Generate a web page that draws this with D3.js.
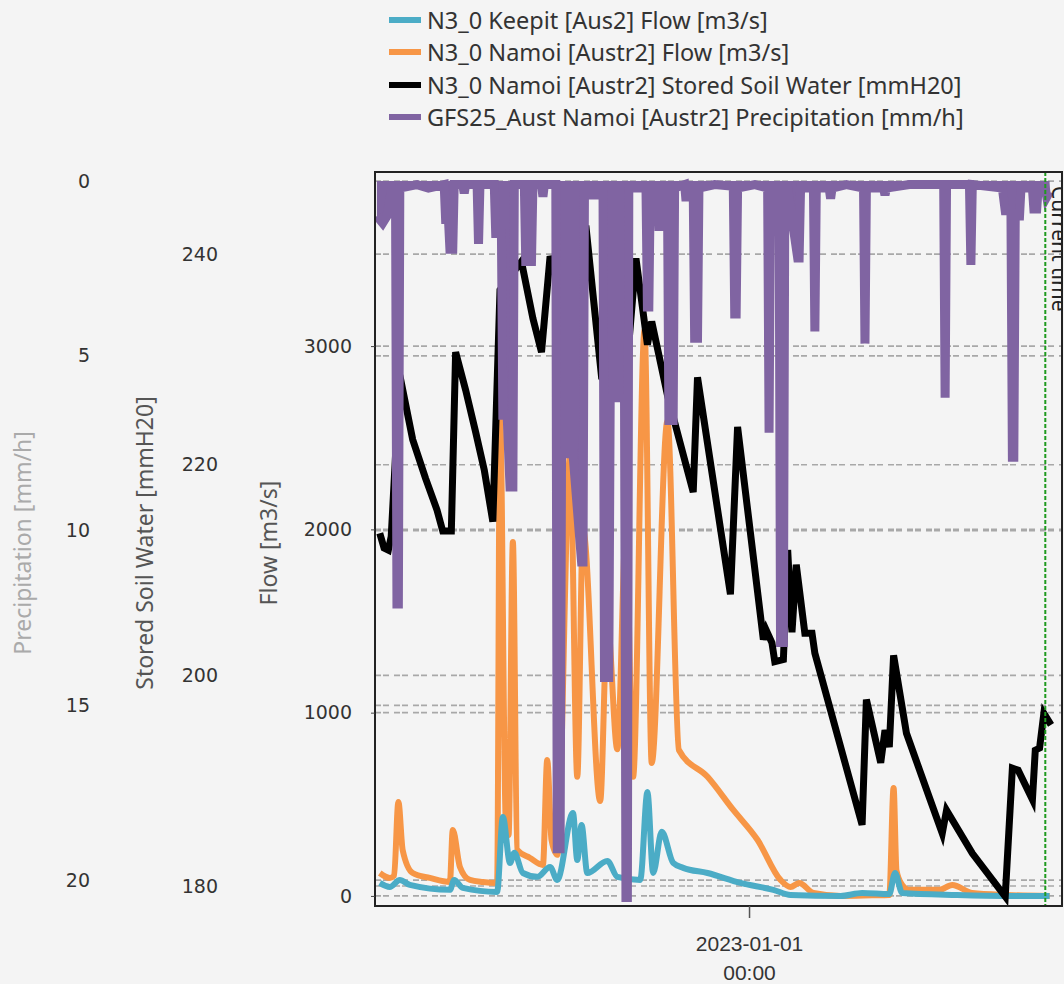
<!DOCTYPE html>
<html>
<head>
<meta charset="utf-8">
<script src="https://cdn.jsdelivr.net/npm/d3@7"></script>
<style>
  html, body { margin: 0; padding: 0; background: #f4f4f4; }
  svg { display: block; }
</style>
</head>
<body>
<div id="chart"></div>
<script>
// ---- data ----
const seriesNames = [
  "N3_0 Keepit [Aus2] Flow [m3/s]",
  "N3_0 Namoi [Austr2] Flow [m3/s]",
  "N3_0 Namoi [Austr2] Stored Soil Water [mmH20]",
  "GFS25_Aust Namoi [Austr2] Precipitation [mm/h]"
];
const seriesColors = ["#4bacc6", "#f79646", "#000000", "#8064a2"];

const timeDomain = ["2022-10-27T16", "2023-02-24T16"];
const timeTicks = ["2023-01-01T00"];
const currentTime = "2023-02-21T18";

const flowTicks = [0, 1000, 2000, 3000];
const soilTicks = [180, 200, 220, 240];
const precipTicks = [0, 5, 10, 15, 20];

// [time, m3/s]
const keepitFlow = [
  ["2022-10-28T12",71],["2022-10-30T06",49],["2022-11-01T00",87],["2022-11-02T18",60],
  ["2022-11-09T18",33],["2022-11-10T12",87],["2022-11-12T00",44],["2022-11-18T00",22],
  ["2022-11-19T00",431],["2022-11-20T06",180],["2022-11-21T00",235],["2022-11-22T12",125],
  ["2022-11-25T00",104],["2022-11-27T06",158],["2022-11-28T12",87],["2022-12-01T06",453],
  ["2022-12-02T00",196],["2022-12-02T18",387],["2022-12-03T18",125],["2022-12-07T06",191],
  ["2022-12-09T00",104],["2022-12-13T00",87],["2022-12-14T06",567],["2022-12-15T06",125],
  ["2022-12-16T18",350],["2022-12-18T18",180],["2022-12-20T12",153],["2022-12-24T18",125],
  ["2022-12-30T12",71],["2023-01-05T06",33],["2023-01-08T06",5],["2023-01-17T00",0],
  ["2023-01-20T18",16],["2023-01-25T12",10],["2023-01-26T12",125],["2023-01-27T18",16],
  ["2023-02-06T06",5],["2023-02-15T00",0],["2023-02-22T12",0]
];

// [time, m3/s]
const namoiFlow = [
  ["2022-10-28T12",125],["2022-10-30T06",98],["2022-10-31T00",110],["2022-10-31T18",513],
  ["2022-11-01T12",250],["2022-11-03T06",125],["2022-11-06T06",98],["2022-11-09T18",76],
  ["2022-11-10T06",360],["2022-11-11T12",158],["2022-11-13T06",87],["2022-11-15T12",76],
  ["2022-11-18T00",71],["2022-11-18T12",2650],["2022-11-19T12",415],["2022-11-20T00",333],
  ["2022-11-20T18",1931],["2022-11-21T12",251],["2022-11-23T18",207],["2022-11-26T00",169],
  ["2022-11-26T18",742],["2022-11-27T12",305],["2022-11-28T12",224],["2022-11-30T18",2405],
  ["2022-12-02T00",650],["2022-12-03T00",2000],["2022-12-06T00",518],["2022-12-07T06",1500],
  ["2022-12-09T00",800],["2022-12-10T12",2000],["2022-12-11T18",650],["2022-12-13T18",3087],
  ["2022-12-15T00",725],["2022-12-17T18",2591],["2022-12-19T18",796],["2022-12-24T18",650],
  ["2022-12-29T06",469],["2023-01-02T12",305],["2023-01-06T12",87],["2023-01-08T06",49],
  ["2023-01-09T18",71],["2023-01-12T06",16],["2023-01-17T00",0],["2023-01-22T12",3],
  ["2023-01-25T12",5],["2023-01-26T06",589],["2023-01-26T18",140],["2023-01-27T18",60],
  ["2023-01-29T00",33],["2023-02-03T06",33],["2023-02-05T12",60],["2023-02-09T00",16],
  ["2023-02-15T00",5],["2023-02-22T12",0]
];

// [time, mmH20]
const soilWater = [
  ["2022-10-28T12",213.5],["2022-10-29T06",212.1],["2022-10-30T00",211.9],["2022-10-30T12",213.2],
  ["2022-11-01T00",228.5],["2022-11-03T06",222.4],["2022-11-05T12",218.7],["2022-11-07T12",215.7],
  ["2022-11-08T12",213.7],["2022-11-10T00",213.7],["2022-11-10T18",230.7],["2022-11-12T12",227.1],
  ["2022-11-14T06",223.1],["2022-11-15T18",219.5],["2022-11-17T06",214.6],["2022-11-18T12",236.6],
  ["2022-11-22T06",239.3],["2022-11-24T06",233.9],["2022-11-25T18",230.7],["2022-11-27T06",239.8],
  ["2022-11-30T06",235.7],["2022-12-01T12",234.7],["2022-12-03T12",242.7],["2022-12-06T06",228.3],
  ["2022-12-10T06",226.6],["2022-12-12T06",239.6],["2022-12-14T06",231.4],["2022-12-15T00",233.6],
  ["2022-12-17T18",226.6],["2022-12-22T06",217.4],["2022-12-23T00",228.3],["2022-12-28T18",207.7],
  ["2022-12-30T00",223.6],["2023-01-03T12",203.4],["2023-01-04T00",204.3],["2023-01-05T00",203.1],
  ["2023-01-05T12",201.3],["2023-01-07T00",201.5],["2023-01-07T18",211.9],["2023-01-08T12",204.1],
  ["2023-01-09T06",210.5],["2023-01-10T18",204.0],["2023-01-12T00",204.0],["2023-01-12T12",202.1],
  ["2023-01-20T18",185.8],["2023-01-21T12",197.7],["2023-01-24T00",191.7],["2023-01-24T18",194.8],
  ["2023-01-25T12",193.2],["2023-01-26T06",201.9],["2023-01-28T12",194.5],["2023-02-01T12",188.4],
  ["2023-02-03T18",185.0],["2023-02-04T12",187.2],["2023-02-09T00",183.1],["2023-02-14T18",179.0],
  ["2023-02-16T00",191.2],["2023-02-17T00",191.0],["2023-02-19T12",188.2],["2023-02-20T00",192.9],
  ["2023-02-20T18",193.1],["2023-02-21T12",196.4],["2023-02-22T18",195.3]
];

// [time, mm/h]
const precipitation = [
  ["2022-10-28T00",1.0],["2022-10-29T00",1.2],["2022-10-29T18",1.0],["2022-10-30T12",0.3],
  ["2022-10-31T06",0.3],["2022-10-31T12",12.1],["2022-10-31T18",12.1],["2022-11-01T00",0.2],
  ["2022-11-04T00",0.1],["2022-11-06T00",0.2],["2022-11-08T18",0.1],["2022-11-09T00",1.1],
  ["2022-11-09T12",1.1],["2022-11-09T18",1.95],["2022-11-10T06",1.95],["2022-11-10T12",0.1],
  ["2022-11-12T00",0.1],["2022-11-12T06",0.35],["2022-11-12T12",0.1],["2022-11-14T12",0.1],
  ["2022-11-14T18",1.8],["2022-11-15T00",0.1],["2022-11-17T12",0.1],["2022-11-17T18",1.5],
  ["2022-11-18T18",1.5],["2022-11-19T00",6.7],["2022-11-19T18",6.7],["2022-11-20T06",8.75],
  ["2022-11-20T18",8.75],["2022-11-21T00",0.1],["2022-11-22T18",0.1],["2022-11-23T00",2.3],
  ["2022-11-24T00",2.3],["2022-11-24T06",0.1],["2022-11-25T18",0.1],["2022-11-26T00",0.45],
  ["2022-11-26T06",0.1],["2022-11-28T06",0.1],["2022-11-28T12",19.1],["2022-11-29T00",19.1],
  ["2022-11-29T06",7.8],["2022-12-01T06",7.8],["2022-12-02T18",10.9],["2022-12-03T00",10.9],
  ["2022-12-03T06",0.4],["2022-12-06T12",0.4],["2022-12-06T18",14.2],["2022-12-07T12",14.2],
  ["2022-12-07T18",6.2],["2022-12-10T06",6.2],["2022-12-10T12",20.5],["2022-12-10T18",20.5],
  ["2022-12-11T00",0.2],["2022-12-14T00",0.2],["2022-12-14T06",3.6],["2022-12-14T12",3.6],
  ["2022-12-14T18",0.2],["2022-12-16T00",0.2],["2022-12-16T06",1.3],["2022-12-16T12",1.3],
  ["2022-12-16T18",0.2],["2022-12-17T18",0.2],["2022-12-18T00",6.85],["2022-12-18T18",6.85],
  ["2022-12-19T00",0.2],["2022-12-20T18",0.1],["2022-12-21T00",0.57],["2022-12-21T06",0.2],
  ["2022-12-22T06",0.2],["2022-12-22T12",4.5],["2022-12-23T00",4.5],["2022-12-23T06",0.2],
  ["2022-12-26T00",0.1],["2022-12-29T06",0.15],["2022-12-29T12",3.8],["2022-12-29T18",3.8],
  ["2022-12-30T00",0.2],["2023-01-02T00",0.1],["2023-01-04T06",0.2],["2023-01-04T12",7.2],
  ["2023-01-04T18",0.2],["2023-01-06T06",0.2],["2023-01-06T12",13.2],["2023-01-07T00",13.2],
  ["2023-01-07T06",0.2],["2023-01-07T18",0.2],["2023-01-09T12",2.2],["2023-01-09T18",2.2],
  ["2023-01-10T00",0.2],["2023-01-12T06",0.2],["2023-01-12T12",4.3],["2023-01-12T18",0.2],
  ["2023-01-15T00",0.2],["2023-01-15T06",0.5],["2023-01-15T12",0.2],["2023-01-18T00",0.1],
  ["2023-01-21T00",0.2],["2023-01-21T06",4.65],["2023-01-21T12",0.2],["2023-01-24T12",0.2],
  ["2023-01-24T18",0.4],["2023-01-25T00",0.2],["2023-01-29T00",0.1],["2023-02-04T00",0.1],
  ["2023-02-04T06",6.2],["2023-02-04T12",0.1],["2023-02-08T12",0.1],["2023-02-08T18",2.4],
  ["2023-02-09T00",0.1],["2023-02-14T06",0.2],["2023-02-14T18",0.85],["2023-02-15T18",0.85],
  ["2023-02-16T00",7.9],["2023-02-16T06",7.9],["2023-02-16T12",1.0],["2023-02-17T06",1.0],
  ["2023-02-17T12",0.2],["2023-02-19T12",0.2],["2023-02-19T18",0.8],["2023-02-20T06",0.8],
  ["2023-02-20T12",0.2],["2023-02-21T18",0.2],["2023-02-22T00",0.45],["2023-02-22T12",0.3]
];

// ---- layout ----
const W = 1064, H = 984;
const plot = { left: 375, right: 1062, top: 172, bottom: 906 };
const parse = d3.timeParse("%Y-%m-%dT%H");
const toPts = arr => arr.map(([t, v]) => ({ t: parse(t), v }));

const svg = d3.select("#chart").append("svg")
  .attr("width", W).attr("height", H)
  .style("font-family", "'Noto Sans', 'Open Sans', sans-serif");

svg.append("rect").attr("width", W).attr("height", H).attr("fill", "#f4f4f4");

const x = d3.scaleTime()
  .domain(timeDomain.map(parse))
  .range([plot.left, plot.right]);
const yFlow = d3.scaleLinear().domain([-55, 3950]).range([plot.bottom, plot.top]);
const ySoil = d3.scaleLinear().domain([178.1, 247.8]).range([plot.bottom, plot.top]);
const yPrecip = d3.scaleLinear().domain([-0.26, 20.74]).range([plot.top, plot.bottom]);

// dashed gridlines for all three value axes
const grid = svg.append("g").attr("class", "grid");
[[yFlow, flowTicks], [ySoil, soilTicks], [yPrecip, precipTicks]].forEach(([s, ticks]) => {
  grid.append("g").selectAll("line").data(ticks).join("line")
    .attr("x1", plot.left).attr("x2", plot.right)
    .attr("y1", d => s(d)).attr("y2", d => s(d))
    .attr("stroke", "#a8a8a8").attr("stroke-width", 1.6)
    .attr("stroke-dasharray", "6,2,6,5");
});

// clip for the series
svg.append("defs").append("clipPath").attr("id", "clip")
  .append("rect")
  .attr("x", plot.left).attr("y", plot.top)
  .attr("width", plot.right - plot.left).attr("height", plot.bottom - plot.top);

const chart = svg.append("g").attr("clip-path", "url(#clip)");

const flowLine = d3.line().x(d => x(d.t)).y(d => yFlow(d.v)).curve(d3.curveMonotoneX);
const soilLine = d3.line().x(d => x(d.t)).y(d => ySoil(d.v));
const precipLine = d3.line().x(d => x(d.t)).y(d => yPrecip(d.v));
const precipArea = d3.area().x(d => x(d.t)).y0(yPrecip(0)).y1(d => yPrecip(d.v));

chart.append("path").datum(toPts(namoiFlow))
  .attr("d", flowLine).attr("fill", "none")
  .attr("stroke", seriesColors[1]).attr("stroke-width", 6);

chart.append("path").datum(toPts(keepitFlow))
  .attr("d", flowLine).attr("fill", "none")
  .attr("stroke", seriesColors[0]).attr("stroke-width", 6);

chart.append("path").datum(toPts(soilWater))
  .attr("d", soilLine).attr("fill", "none")
  .attr("stroke", seriesColors[2]).attr("stroke-width", 7);

const rain = toPts(precipitation);
chart.append("path").datum(rain)
  .attr("d", precipArea).attr("fill", seriesColors[3]);
chart.append("path").datum(rain)
  .attr("d", precipLine).attr("fill", "none")
  .attr("stroke", seriesColors[3]).attr("stroke-width", 9);

// current time marker
const xNow = x(parse(currentTime));
chart.append("line")
  .attr("x1", xNow).attr("x2", xNow)
  .attr("y1", plot.top).attr("y2", plot.bottom)
  .attr("stroke", "#1f9a1f").attr("stroke-width", 2)
  .attr("stroke-dasharray", "4,2");
chart.append("text")
  .attr("transform", `translate(${xNow + 7},${plot.top + 14}) rotate(90)`)
  .attr("font-size", 21).attr("fill", "#222")
  .text("Current time");

// frame
svg.append("rect")
  .attr("x", plot.left).attr("y", plot.top)
  .attr("width", plot.right - plot.left).attr("height", plot.bottom - plot.top)
  .attr("fill", "none").attr("stroke", "#222").attr("stroke-width", 2);

// value axes
const axisStyle = (g, color) => {
  g.select(".domain").remove();
  g.selectAll("text").attr("font-size", 19).attr("fill", color)
    .style("font-family", "'DejaVu Sans', sans-serif");
};
const fmt = d3.format("d");

svg.append("g").attr("transform", `translate(${plot.left},0)`)
  .call(d3.axisLeft(yFlow).tickValues(flowTicks).tickFormat(fmt).tickSize(4).tickPadding(19))
  .call(g => { axisStyle(g, "#333"); g.selectAll("line").attr("stroke", "#444"); });

svg.append("g").attr("transform", "translate(218,0)")
  .call(d3.axisLeft(ySoil).tickValues(soilTicks).tickFormat(fmt).tickSize(0).tickPadding(0))
  .call(g => { axisStyle(g, "#333"); g.selectAll("line").remove(); });

svg.append("g").attr("transform", "translate(90,0)")
  .call(d3.axisLeft(yPrecip).tickValues(precipTicks).tickFormat(fmt).tickSize(0).tickPadding(0))
  .call(g => { axisStyle(g, "#333"); g.selectAll("line").remove(); });

// axis titles
const midY = 543;
[["Precipitation [mm/h]", 22, "#aaaaaa"],
 ["Stored Soil Water [mmH20]", 144, "#555555"],
 ["Flow [m3/s]", 268, "#555555"]].forEach(([label, cx, color]) => {
  svg.append("text")
    .attr("transform", `translate(${cx},${midY}) rotate(-90)`)
    .attr("text-anchor", "middle").attr("dominant-baseline", "central")
    .attr("font-size", 23).attr("fill", color)
    .style("font-family", "'Liberation Sans Narrow', 'Noto Sans', sans-serif")
    .text(label);
});

// time axis
const xAxis = svg.append("g").attr("transform", `translate(0,${plot.bottom})`)
  .call(d3.axisBottom(x).tickValues(timeTicks.map(parse)).tickSize(12).tickFormat(() => ""));
xAxis.select(".domain").remove();
xAxis.selectAll("line").attr("stroke", "#555").attr("stroke-width", 1.5);
const tickLabel = xAxis.selectAll(".tick").append("text")
  .attr("fill", "#333").attr("font-size", 21).attr("text-anchor", "middle");
tickLabel.append("tspan").attr("x", 0).attr("y", 45).text(d => d3.timeFormat("%Y-%m-%d")(d));
tickLabel.append("tspan").attr("x", 0).attr("y", 74).text(d => d3.timeFormat("%H:%M")(d));

// legend
const legend = svg.append("g").attr("transform", "translate(389,0)");
const rowY = [20, 52, 85, 117];
seriesNames.forEach((name, i) => {
  const row = legend.append("g").attr("transform", `translate(0,${rowY[i]})`);
  row.append("line").attr("x1", 0).attr("x2", 32).attr("y1", 0).attr("y2", 0)
    .attr("stroke", seriesColors[i]).attr("stroke-width", 6);
  row.append("text").attr("x", 38).attr("y", 0)
    .attr("dominant-baseline", "central")
    .attr("font-size", 23.5).attr("fill", "#333").text(name);
});
</script>
</body>
</html>
